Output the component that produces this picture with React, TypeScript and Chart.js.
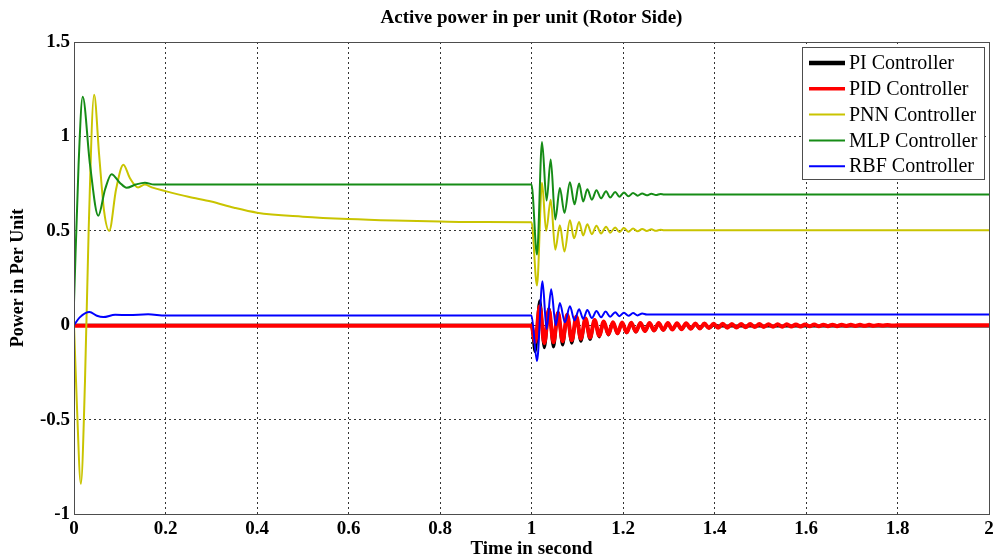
import React, { useEffect, useRef } from 'react';
import { Chart, registerables } from 'chart.js';

Chart.register(...registerables);

const chartTitle = 'Active power in per unit (Rotor Side)';
const xAxisTitle = 'Time in second';
const yAxisTitle = 'Power in Per Unit';
const xRange = [0, 2];
const xStep = 0.2;
const yRange = [-1, 1.5];
const yStep = 0.5;

const seriesNames = ['PI Controller', 'PID Controller', 'PNN Controller', 'MLP Controller', 'RBF Controller'];
const seriesColors = ['#000000', '#ff0000', '#c9c400', '#168c16', '#0000ff'];

// [time (s), power (p.u.)] (extrema of the oscillations)
const piPoints: [number, number][] = [
  [0, 0], [1.0, 0], [1.008, -0.14], [1.018, 0.13], [1.028, -0.12], [1.038, 0.09], [1.048, -0.115],
  [1.058, 0.07], [1.068, -0.105], [1.078, 0.055], [1.088, -0.095], [1.098, 0.045], [1.108, -0.085],
  [1.118, 0.035], [1.128, -0.075], [1.138, 0.028], [1.148, -0.062], [1.158, 0.02], [1.168, -0.052],
  [1.178, 0.016], [1.188, -0.045], [1.198, 0.013], [1.208, -0.04], [1.218, 0.011], [1.228, -0.036],
  [1.238, 0.01], [1.248, -0.032], [1.258, 0.009], [1.268, -0.029], [1.278, 0.008], [1.288, -0.026],
  [1.298, 0.007], [1.308, -0.023], [1.318, 0.006], [1.328, -0.021], [1.338, 0.005], [1.348, -0.019],
  [1.358, 0.004], [1.368, -0.017], [1.378, 0.003], [1.388, -0.015], [1.398, 0.0], [1.41, -0.004],
  [2.0, -0.004],
];

const pidPoints: [number, number][] = [
  [0, -0.003], [1.0, -0.003], [1.008, -0.09], [1.018, 0.1], [1.028, -0.095], [1.038, 0.08], [1.048, -0.09],
  [1.058, 0.065], [1.068, -0.085], [1.078, 0.055], [1.088, -0.08], [1.098, 0.045], [1.108, -0.072],
  [1.118, 0.035], [1.128, -0.065], [1.138, 0.028], [1.148, -0.055], [1.158, 0.02], [1.168, -0.048],
  [1.178, 0.016], [1.188, -0.043], [1.198, 0.014], [1.208, -0.038], [1.218, 0.013], [1.228, -0.034],
  [1.238, 0.012], [1.248, -0.031], [1.258, 0.012], [1.268, -0.028], [1.278, 0.011], [1.288, -0.025],
  [1.298, 0.011], [1.308, -0.023], [1.318, 0.01], [1.328, -0.021], [1.338, 0.01], [1.348, -0.019],
  [1.358, 0.009], [1.368, -0.017], [1.378, 0.009], [1.388, -0.015], [1.398, 0.008], [1.408, -0.014],
  [1.418, 0.008], [1.428, -0.013], [1.438, 0.007], [1.448, -0.012], [1.458, 0.007], [1.468, -0.011],
  [1.478, 0.006], [1.488, -0.01], [1.498, 0.006], [1.508, -0.009], [1.518, 0.005], [1.528, -0.008],
  [1.538, 0.005], [1.548, -0.008], [1.558, 0.005], [1.568, -0.007], [1.578, 0.004], [1.588, -0.007],
  [1.598, 0.004], [1.608, -0.006], [1.618, 0.004], [1.628, -0.006], [1.638, 0.003], [1.648, -0.005],
  [1.658, 0.003], [1.668, -0.005], [1.678, 0.003], [1.688, -0.004], [1.698, 0.002], [1.708, -0.004],
  [1.718, 0.002], [1.728, -0.003], [1.738, 0.002], [1.748, -0.003], [1.758, 0.001], [1.768, -0.002],
  [1.778, 0.001], [1.788, -0.002], [1.8, 0], [2.0, 0],
];

const pnnPoints: [number, number][] = [
  [0, 0], [0.006, -0.4], [0.015, -0.84], [0.024, -0.3], [0.032, 0.5], [0.044, 1.22], [0.055, 0.9],
  [0.066, 0.6], [0.077, 0.5], [0.092, 0.72], [0.108, 0.85], [0.122, 0.78], [0.14, 0.73], [0.155, 0.745],
  [0.17, 0.73], [0.2, 0.71], [0.25, 0.68], [0.3, 0.655], [0.35, 0.622], [0.4, 0.596], [0.5, 0.575],
  [0.6, 0.562], [0.7, 0.554], [0.8, 0.549], [0.9, 0.546], [1.0, 0.545],
  [1.012, 0.21], [1.023, 0.754], [1.032, 0.5], [1.042, 0.665], [1.052, 0.4], [1.062, 0.53],
  [1.072, 0.39], [1.084, 0.556], [1.093, 0.46], [1.104, 0.546], [1.113, 0.475], [1.122, 0.535],
  [1.132, 0.482], [1.142, 0.527], [1.152, 0.486], [1.163, 0.522], [1.172, 0.49], [1.183, 0.518],
  [1.192, 0.493], [1.202, 0.515], [1.212, 0.495], [1.222, 0.512], [1.232, 0.497], [1.242, 0.51],
  [1.252, 0.499], [1.262, 0.508], [1.272, 0.5], [1.282, 0.506], [1.29, 0.503], [2.0, 0.503],
];

const mlpPoints: [number, number][] = [
  [0, 0.12], [0.01, 0.85], [0.019, 1.21], [0.035, 0.85], [0.053, 0.58], [0.068, 0.72], [0.082, 0.8],
  [0.1, 0.755], [0.115, 0.728], [0.135, 0.745], [0.155, 0.755], [0.175, 0.745], [1.0, 0.745],
  [1.012, 0.374], [1.023, 0.97], [1.033, 0.66], [1.042, 0.878], [1.052, 0.56], [1.062, 0.727],
  [1.072, 0.595], [1.084, 0.757], [1.094, 0.64], [1.104, 0.75], [1.113, 0.655], [1.122, 0.72],
  [1.132, 0.665], [1.142, 0.715], [1.152, 0.672], [1.163, 0.71], [1.172, 0.676], [1.183, 0.706],
  [1.192, 0.68], [1.202, 0.703], [1.212, 0.683], [1.222, 0.7], [1.232, 0.686], [1.242, 0.698],
  [1.252, 0.688], [1.262, 0.696], [1.272, 0.689], [1.282, 0.695], [1.29, 0.692], [2.0, 0.692],
];

const rbfPoints: [number, number][] = [
  [0, 0], [0.012, 0.04], [0.034, 0.07], [0.05, 0.05], [0.064, 0.043], [0.09, 0.055], [0.12, 0.054],
  [0.162, 0.058], [0.2, 0.051], [1.0, 0.051],
  [1.012, -0.19], [1.024, 0.233], [1.033, -0.02], [1.043, 0.19], [1.053, 0.0], [1.062, 0.118],
  [1.073, 0.015], [1.084, 0.1], [1.094, 0.025], [1.104, 0.085], [1.113, 0.033], [1.122, 0.08],
  [1.132, 0.038], [1.142, 0.075], [1.152, 0.042], [1.162, 0.072], [1.172, 0.045], [1.183, 0.069],
  [1.192, 0.048], [1.202, 0.066], [1.212, 0.05], [1.222, 0.064], [1.232, 0.052], [1.242, 0.062],
  [1.252, 0.057], [2.0, 0.057],
];

const seriesPoints = [piPoints, pidPoints, pnnPoints, mlpPoints, rbfPoints];
const seriesWidths = [3, 4, 2, 2, 2];
const legendWidths = [4.5, 3.5, 2, 2, 2];

const SERIF = '"Liberation Serif", "Times New Roman", serif';

const formatTick = (v: number | string) => String(Math.round(Number(v) * 10) / 10);

const framePlugin = {
  id: 'frameAndText',
  afterDatasetsDraw(chart: any) {
    const { ctx, chartArea } = chart;
    const { left, top, right, bottom } = chartArea;
    ctx.save();
    ctx.strokeStyle = '#4d4d4d';
    ctx.lineWidth = 1;
    ctx.setLineDash([]);
    ctx.strokeRect(Math.round(left) + 0.5, Math.round(top) + 0.5, Math.round(right - left), Math.round(bottom - top));
    ctx.restore();
  },
  afterDraw(chart: any) {
    const { ctx, chartArea } = chart;
    const { left, top, right } = chartArea;
    ctx.save();
    // title
    ctx.fillStyle = '#000';
    ctx.font = `bold 19px ${SERIF}`;
    ctx.textAlign = 'center';
    ctx.textBaseline = 'middle';
    ctx.fillText(chartTitle, (left + right) / 2, 18);

    // legend box
    const bw = 182;
    const bh = 132;
    const bx = Math.round(right - 5 - bw);
    const by = Math.round(top + 5);
    ctx.fillStyle = '#ffffff';
    ctx.fillRect(bx, by, bw, bh);
    ctx.strokeStyle = '#4d4d4d';
    ctx.lineWidth = 1;
    ctx.strokeRect(bx + 0.5, by + 0.5, bw, bh);
    ctx.font = `20px ${SERIF}`;
    ctx.textAlign = 'left';
    ctx.textBaseline = 'middle';
    seriesNames.forEach((name, i) => {
      const cy = by + 16 + i * 25.8;
      ctx.strokeStyle = seriesColors[i];
      ctx.lineWidth = legendWidths[i];
      ctx.beginPath();
      ctx.moveTo(bx + 7, cy);
      ctx.lineTo(bx + 43, cy);
      ctx.stroke();
      ctx.fillStyle = '#000';
      ctx.fillText(name, bx + 47, cy + 1);
    });
    ctx.restore();
  },
};

export default function App() {
  const canvasRef = useRef<HTMLCanvasElement | null>(null);

  useEffect(() => {
    document.body.style.margin = '0';
    const canvas = canvasRef.current;
    if (!canvas) return;
    const datasets = seriesNames.map((name, i) => ({
      label: name,
      data: seriesPoints[i].map(([x, y]) => ({ x, y })),
      borderColor: seriesColors[i],
      backgroundColor: seriesColors[i],
      borderWidth: seriesWidths[i],
      pointRadius: 0,
      fill: false,
      cubicInterpolationMode: 'monotone' as const,
      order: seriesNames.length - i,
    }));
    const chart = new Chart(canvas, {
      type: 'line',
      data: { datasets },
      plugins: [framePlugin],
      options: {
        animation: false,
        responsive: false,
        devicePixelRatio: 1,
        layout: { padding: { top: 42, right: 0, left: 0, bottom: 0 } },
        plugins: {
          legend: { display: false },
          tooltip: { enabled: false },
          title: { display: false },
        },
        scales: {
          x: {
            type: 'linear',
            min: xRange[0],
            max: xRange[1],
            ticks: {
              stepSize: xStep,
              color: '#000',
              font: { family: SERIF, size: 19, weight: 'bold' },
              padding: 4,
              maxRotation: 0,
              autoSkip: false,
              callback: formatTick,
            },
            grid: { color: '#333333', lineWidth: 1, drawTicks: false },
            border: { display: false, dash: [2, 3] },
            title: {
              display: true,
              text: xAxisTitle,
              color: '#000',
              font: { family: SERIF, size: 19, weight: 'bold' },
              padding: { top: 0, bottom: 0 },
            },
            afterFit(scale: any) {
              scale.height = 46;
              scale.paddingRight = 4;
            },
          },
          y: {
            type: 'linear',
            min: yRange[0],
            max: yRange[1],
            ticks: {
              stepSize: yStep,
              color: '#000',
              font: { family: SERIF, size: 19, weight: 'bold' },
              padding: 4,
              autoSkip: false,
              callback: formatTick,
            },
            grid: { color: '#333333', lineWidth: 1, drawTicks: false },
            border: { display: false, dash: [2, 3] },
            title: {
              display: true,
              text: yAxisTitle,
              color: '#000',
              font: { family: SERIF, size: 18, weight: 'bold' },
              padding: { top: 8, bottom: 0 },
            },
            afterFit(scale: any) {
              scale.width = 74;
            },
          },
        },
      },
    });
    return () => chart.destroy();
  }, []);

  return (
    <div style={{ width: 993, height: 560, background: '#fff' }}>
      <canvas ref={canvasRef} width={993} height={560} />
    </div>
  );
}
